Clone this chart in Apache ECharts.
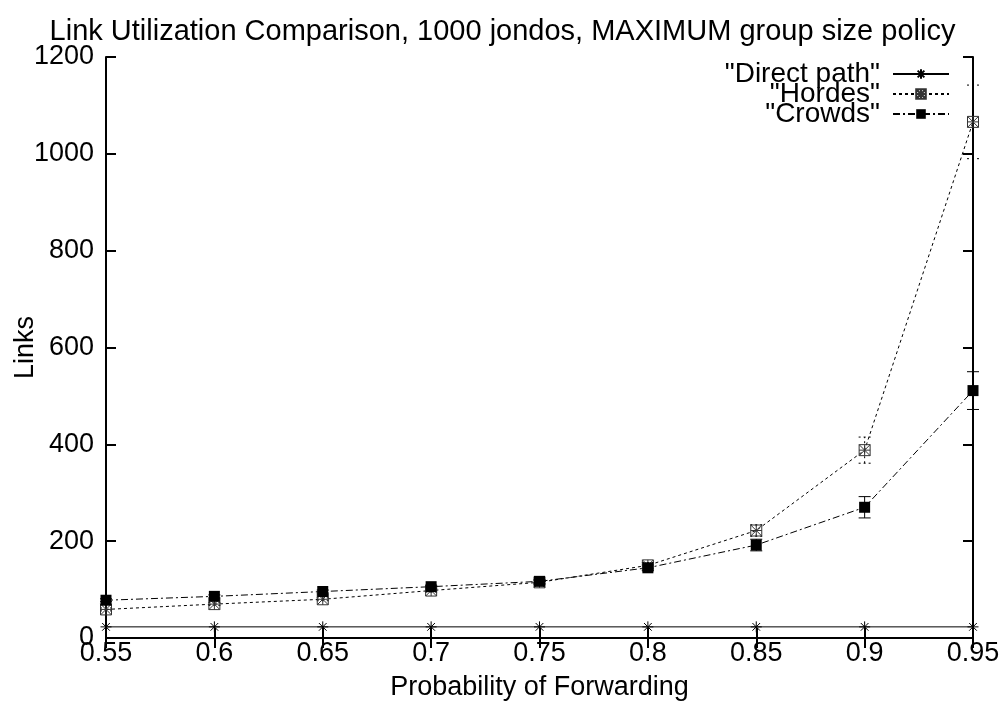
<!DOCTYPE html>
<html>
<head>
<meta charset="utf-8">
<script src="https://cdn.jsdelivr.net/npm/echarts@6/dist/echarts.min.js"></script>
<style>html,body{margin:0;padding:0;background:#fff;}#c{width:1005px;height:704px;}</style>
</head>
<body>
<div id="c"></div>
<script>
const xValues = [0.55, 0.6, 0.65, 0.7, 0.75, 0.8, 0.85, 0.9, 0.95];
const directPath = [23, 23, 23, 23, 23, 23, 23, 23, 23];
const hordes = [59, 70, 80, 98, 115, 150, 222, 388, 1066];
const hordesErr = [3, 3, 3, 3, 4, 6, 12, 27, 76];
const crowds = [78, 86, 96, 106, 117, 145, 192, 270, 511];
const crowdsErr = [3, 3, 3, 3, 4, 6, 12, 22, 39];
const seriesNames = ['"Direct path"', '"Hordes"', '"Crowds"'];

const FONT = 'Liberation Sans, Arial, sans-serif';
const pairs = (ys) => xValues.map((x, i) => [x, ys[i]]);
const errData = (ys, es) => xValues.map((x, i) => [x, ys[i] - es[i], ys[i] + es[i]]);

const asterisk = 'path://M5,0L5,10M0,5L10,5M1.5,1.5L8.5,8.5M8.5,1.5L1.5,8.5';
const crossBox = 'path://M0,0L10,0L10,10L0,10ZM5,0L5,10M0,5L10,5M0,0L10,10M10,0L0,10';

function errRender(dash) {
  return function (params, api) {
    const x = api.value(0);
    const lo = api.coord([x, api.value(1)]);
    const hi = api.coord([x, api.value(2)]);
    const w = 6;
    const style = { stroke: '#000', lineWidth: 1, lineDash: dash };
    return {
      type: 'group',
      children: [
        { type: 'line', shape: { x1: lo[0], y1: lo[1], x2: hi[0], y2: hi[1] }, style },
        { type: 'line', shape: { x1: lo[0] - w, y1: lo[1], x2: lo[0] + w, y2: lo[1] }, style },
        { type: 'line', shape: { x1: hi[0] - w, y1: hi[1], x2: hi[0] + w, y2: hi[1] }, style }
      ]
    };
  };
}

const chart = echarts.init(document.getElementById('c'), null, { renderer: 'canvas' });
const axisCommon = {
  axisLine: { show: true, lineStyle: { color: '#000', width: 2 } },
  axisTick: { show: true, inside: true, length: 10, lineStyle: { color: '#000', width: 2 } },
  splitLine: { show: false }
};
chart.setOption({
  animation: false,
  backgroundColor: '#fff',
  title: {
    text: 'Link Utilization Comparison, 1000 jondos, MAXIMUM group size policy',
    left: 'center', top: 12,
    textStyle: { fontFamily: FONT, fontSize: 29, fontWeight: 'normal', color: '#000' }
  },
  grid: { left: 106, right: 32, top: 57, bottom: 66, containLabel: false, outerBoundsMode: 'none' },
  legend: {
    data: seriesNames,
    orient: 'vertical',
    right: 50, top: 55,
    align: 'right',
    itemWidth: 56, itemHeight: 12, itemGap: -8,
    textStyle: { fontFamily: FONT, fontSize: 28, color: '#000', padding: [0, 8, 0, 0] }
  },
  xAxis: [
    Object.assign({
      type: 'value', min: 0.55, max: 0.95, interval: 0.05,
      name: 'Probability of Forwarding', nameLocation: 'middle', nameGap: 36, nameMoveOverlap: false,
      nameTextStyle: { fontFamily: FONT, fontSize: 27, color: '#000' },
      axisLabel: { fontFamily: FONT, fontSize: 27, color: '#000', margin: 2 }
    }, axisCommon),
    Object.assign({
      type: 'value', min: 0.55, max: 0.95, interval: 0.05, position: 'top',
      axisLabel: { show: false }
    }, axisCommon)
  ],
  yAxis: [
    Object.assign({
      type: 'value', min: 0, max: 1200, interval: 200,
      name: 'Links', nameLocation: 'middle', nameGap: 67, nameRotate: 90, nameMoveOverlap: false,
      nameTextStyle: { fontFamily: FONT, fontSize: 27, color: '#000' },
      axisLabel: { fontFamily: FONT, fontSize: 27, color: '#000', margin: 12, formatter: (v) => String(v) }
    }, axisCommon),
    Object.assign({
      type: 'value', min: 0, max: 1200, interval: 200, position: 'right',
      axisLabel: { show: false }
    }, axisCommon)
  ],
  series: [
    {
      name: seriesNames[0], type: 'line', data: pairs(directPath),
      symbol: asterisk, symbolSize: 11, showAllSymbol: true,
      lineStyle: { color: '#000', width: 1, type: 'solid' },
      itemStyle: { color: 'transparent', borderColor: '#000', borderWidth: 1 },
      emphasis: { disabled: true }, z: 3
    },
    {
      name: seriesNames[1], type: 'line', data: pairs(hordes),
      symbol: crossBox, symbolSize: 11, showAllSymbol: true,
      lineStyle: { color: '#000', width: 1, type: [3, 3] },
      itemStyle: { color: 'transparent', borderColor: '#333', borderWidth: 1 },
      emphasis: { disabled: true }, z: 3
    },
    {
      name: seriesNames[2], type: 'line', data: pairs(crowds),
      symbol: 'rect', symbolSize: 11, showAllSymbol: true,
      lineStyle: { color: '#000', width: 1, type: [7, 3, 2, 3] },
      itemStyle: { color: '#000' },
      emphasis: { disabled: true }, z: 4
    },
    {
      name: 'hordesErr', type: 'custom', data: errData(hordes, hordesErr),
      renderItem: errRender([2, 3]), encode: { x: 0, y: [1, 2] }, z: 2, silent: true
    },
    {
      name: 'crowdsErr', type: 'custom', data: errData(crowds, crowdsErr),
      renderItem: errRender(null), encode: { x: 0, y: [1, 2] }, z: 2, silent: true
    }
  ]
});
</script>
</body>
</html>
